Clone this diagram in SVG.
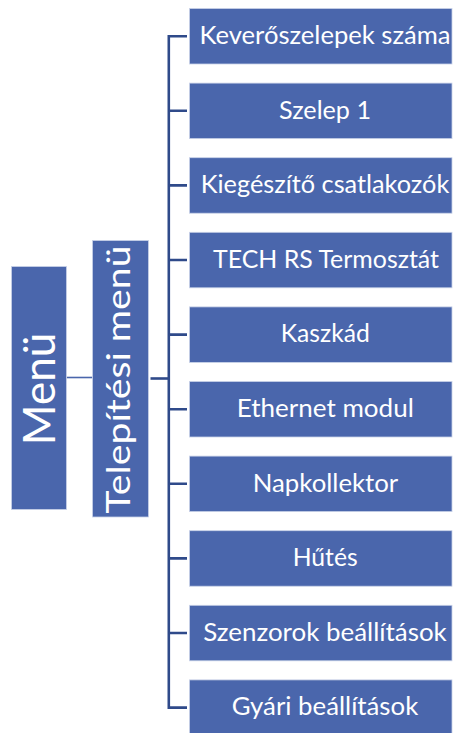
<svg xmlns="http://www.w3.org/2000/svg" width="455" height="733" viewBox="0 0 455 733">
<style>
.box{fill:#4A66AC;stroke:#C9D2E8;stroke-width:0.8}
.t{font-family:Lato,"Liberation Sans",sans-serif;fill:#ffffff;text-anchor:middle;font-size:24.5px}
.big{font-family:Lato,"Liberation Sans",sans-serif;fill:#ffffff;text-anchor:middle}
.bus{fill:none;stroke:#2F4A8A;stroke-width:2.6}
</style>
<rect width="455" height="733" fill="#ffffff"/>
<g id="connectors">
<line x1="66.5" y1="377.5" x2="92.5" y2="377.5" stroke="#4A66AC" stroke-width="1.6"/>
<line x1="150.5" y1="378.5" x2="169" y2="378.5" class="bus" stroke-width="3"/>
<path class="bus" d="M187,36.2 H168.8 V707.6 H187"/>
<path class="bus" d="M168.8,110.8 H187 M168.8,185.4 H187 M168.8,260 H187 M168.8,334.6 H187 M168.8,409.2 H187 M168.8,483.8 H187 M168.8,558.4 H187 M168.8,633 H187"/>
</g>
<g id="menu">
<rect class="box" x="11.5" y="266.5" width="55" height="243"/>
<text class="big" font-size="44" transform="translate(55,389) rotate(-90)">Menü</text>
</g>
<g id="telepitesi">
<rect class="box" x="92.5" y="240.5" width="56" height="276.5"/>
<text class="big" font-size="33" transform="translate(129.5,379.5) rotate(-90)" textLength="268" lengthAdjust="spacingAndGlyphs">Telepítési menü</text>
</g>
<g id="n1"><rect class="box" x="189.5" y="8.5" width="262.5" height="55.5"/><text class="t" x="325" y="44" textLength="251" lengthAdjust="spacingAndGlyphs">Keverőszelepek száma</text></g>
<g id="n2"><rect class="box" x="189.5" y="83.1" width="262.5" height="55.5"/><text class="t" x="325" y="118.6" textLength="92" lengthAdjust="spacingAndGlyphs">Szelep 1</text></g>
<g id="n3"><rect class="box" x="189.5" y="157.7" width="262.5" height="55.5"/><text class="t" x="325" y="193.2" textLength="248.5" lengthAdjust="spacingAndGlyphs">Kiegészítő csatlakozók</text></g>
<g id="n4"><rect class="box" x="189.5" y="232.3" width="262.5" height="55.5"/><text class="t" x="326" y="267.8" textLength="226" lengthAdjust="spacingAndGlyphs">TECH RS Termosztát</text></g>
<g id="n5"><rect class="box" x="189.5" y="306.9" width="262.5" height="55.5"/><text class="t" x="325.3" y="342.4" textLength="89" lengthAdjust="spacingAndGlyphs">Kaszkád</text></g>
<g id="n6"><rect class="box" x="189.5" y="381.5" width="262.5" height="55.5"/><text class="t" x="325.3" y="417" textLength="177" lengthAdjust="spacingAndGlyphs">Ethernet modul</text></g>
<g id="n7"><rect class="box" x="189.5" y="456.1" width="262.5" height="55.5"/><text class="t" x="325.5" y="491.6" textLength="145.5" lengthAdjust="spacingAndGlyphs">Napkollektor</text></g>
<g id="n8"><rect class="box" x="189.5" y="530.7" width="262.5" height="55.5"/><text class="t" x="325.2" y="566.2" textLength="65" lengthAdjust="spacingAndGlyphs">Hűtés</text></g>
<g id="n9"><rect class="box" x="189.5" y="605.3" width="262.5" height="55.5"/><text class="t" x="325" y="640.8" textLength="243.5" lengthAdjust="spacingAndGlyphs">Szenzorok beállítások</text></g>
<g id="n10"><rect class="box" x="189.5" y="679.9" width="262.5" height="55.5"/><text class="t" x="325" y="715.4" textLength="186.5" lengthAdjust="spacingAndGlyphs">Gyári beállítások</text></g>
</svg>
